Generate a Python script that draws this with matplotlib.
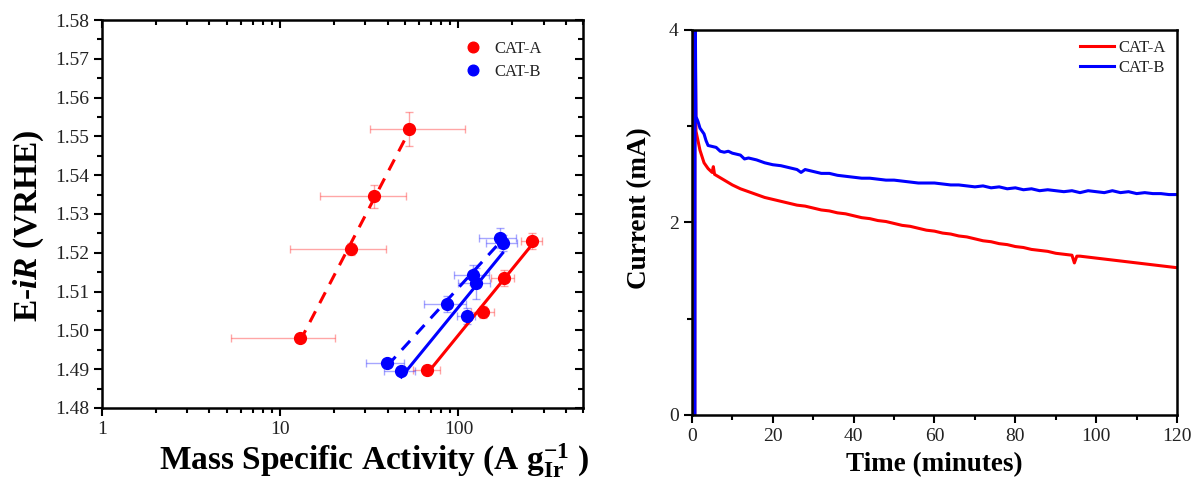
import numpy as np
import matplotlib
matplotlib.use('Agg')
import matplotlib.pyplot as plt
from matplotlib.ticker import MultipleLocator, LogLocator, NullFormatter, FixedLocator, FixedFormatter

plt.rcParams['font.family'] = 'Liberation Serif'
plt.rcParams['mathtext.fontset'] = 'custom'
plt.rcParams['mathtext.rm'] = 'Liberation Serif'
plt.rcParams['mathtext.it'] = 'Liberation Serif:italic'
plt.rcParams['mathtext.bf'] = 'Liberation Serif:bold'
plt.rcParams['mathtext.bfit'] = 'Liberation Serif:italic:bold'

# --- Tafel-style data: mass activity (A/g_Ir) vs E-iR (V vs RHE) ---
# CAT-A, dashed set
a1_x = [12.9, 25.1, 33.7, 53.0]
a1_y = [1.498, 1.521, 1.5346, 1.5519]
a1_xlo = [7.6, 13.7, 16.9, 21.0]
a1_xhi = [7.5, 14.3, 16.8, 56.0]
a1_yerr = [0.001, 0.0015, 0.003, 0.0045]

# CAT-A, solid set
a2_x = [67.0, 138.0, 179.0, 260.0]
a2_y = [1.4898, 1.5047, 1.5135, 1.5230]
a2_xerr = [11.5, 21.0, 27.0, 36.0]
a2_yerr = [0.0012, 0.0015, 0.002, 0.002]

# CAT-B, dashed set
b1_x = [39.9, 86.7, 121.0, 170.0]
b1_y = [1.4916, 1.5068, 1.5143, 1.5238]
b1_xerr = [9.5, 23.0, 27.0, 40.0]
b1_yerr = [0.001, 0.002, 0.0025, 0.0025]

# CAT-B, solid set
b2_x = [47.8, 111.0, 125.0, 177.0]
b2_y = [1.4895, 1.5037, 1.5122, 1.5225]
b2_xerr = [9.5, 13.0, 25.0, 35.0]
b2_yerr = [0.001, 0.002, 0.004, 0.002]

# --- Chronoamperometry: current (mA) vs time (min) ---
t_a = [0.7, 0.72, 1.0, 1.5, 2, 3, 4, 5, 5.3, 5.6, 6, 8, 10, 12, 14, 16, 18, 20, 22, 24,
       26, 28, 30, 32, 34, 36, 38, 40, 42, 44, 46, 48, 50, 52, 54, 56, 58, 60, 62, 64,
       66, 68, 70, 72, 74, 76, 78, 80, 82, 84, 86, 88, 90, 92, 94, 94.6, 95.2, 96, 98,
       100, 102, 104, 106, 108, 110, 112, 114, 116, 118, 120]
i_a = [0.0, 4.5, 2.95, 2.85, 2.75, 2.62, 2.56, 2.52, 2.58, 2.50, 2.49, 2.44, 2.39, 2.35,
       2.32, 2.29, 2.26, 2.24, 2.22, 2.20, 2.18, 2.17, 2.15, 2.13, 2.12, 2.10, 2.09, 2.07,
       2.05, 2.04, 2.02, 2.01, 1.99, 1.97, 1.96, 1.94, 1.92, 1.91, 1.89, 1.88, 1.86, 1.85,
       1.83, 1.81, 1.80, 1.78, 1.77, 1.75, 1.74, 1.72, 1.71, 1.70, 1.68, 1.67, 1.66, 1.58,
       1.65, 1.65, 1.64, 1.63, 1.62, 1.61, 1.60, 1.59, 1.58, 1.57, 1.56, 1.55, 1.54, 1.53]

t_b = [0.75, 0.78, 1.0, 1.5, 2, 3, 3.5, 4, 5, 6, 7, 8, 9, 10, 11, 12, 13, 14, 16, 18,
       20, 22, 24, 26, 27, 28, 30, 32, 34, 36, 38, 40, 42, 44, 46, 48, 50, 52, 54, 56,
       58, 60, 62, 64, 66, 68, 70, 72, 74, 76, 78, 80, 82, 84, 86, 88, 90, 92, 94, 96,
       98, 100, 102, 104, 106, 108, 110, 112, 114, 116, 118, 120]
i_b = [0.0, 4.5, 3.10, 3.05, 2.98, 2.92, 2.85, 2.80, 2.79, 2.78, 2.74, 2.73, 2.74, 2.72,
       2.71, 2.70, 2.66, 2.67, 2.65, 2.62, 2.60, 2.59, 2.57, 2.55, 2.52, 2.55, 2.53, 2.51,
       2.51, 2.49, 2.48, 2.47, 2.46, 2.46, 2.45, 2.44, 2.44, 2.43, 2.42, 2.41, 2.41, 2.41,
       2.40, 2.39, 2.39, 2.38, 2.37, 2.38, 2.36, 2.37, 2.35, 2.36, 2.34, 2.35, 2.33, 2.34,
       2.33, 2.32, 2.33, 2.31, 2.33, 2.32, 2.31, 2.33, 2.31, 2.32, 2.30, 2.31, 2.30, 2.30,
       2.29, 2.29]

RED = '#ff0000'
BLUE = '#0000ff'
TXT = '#222222'

fig = plt.figure(figsize=(11.95, 4.88), dpi=100)
ax1 = fig.add_axes([0.0854, 0.164, 0.4025, 0.795])
ax2 = fig.add_axes([0.579, 0.1496, 0.406, 0.789])


def fit_line(ax, x, y, color, ls):
    lx = np.log10(x)
    k, b = np.polyfit(lx, y, 1)
    xx = np.array([min(x), max(x)])
    ax.plot(xx, k * np.log10(xx) + b, color=color, ls=ls, lw=2.2, zorder=2,
            dashes=(4, 3) if ls == '--' else (None, None))


def points(ax, x, y, xerr, yerr, color, label=None):
    ax.errorbar(x, y, xerr=xerr, yerr=yerr, fmt='none', ecolor=color, alpha=0.35,
                elinewidth=1.0, capsize=3, capthick=1.0, zorder=1)
    ax.plot(x, y, 'o', color=color, ms=8.5, mec=color, zorder=3, label=label)


fit_line(ax1, a1_x, a1_y, RED, '--')
fit_line(ax1, a2_x, a2_y, RED, '-')
fit_line(ax1, b1_x, b1_y, BLUE, '--')
fit_line(ax1, b2_x, b2_y, BLUE, '-')
points(ax1, a1_x, a1_y, [a1_xlo, a1_xhi], a1_yerr, RED, 'CAT-A')
points(ax1, a2_x, a2_y, a2_xerr, a2_yerr, RED)
points(ax1, b1_x, b1_y, b1_xerr, b1_yerr, BLUE, 'CAT-B')
points(ax1, b2_x, b2_y, b2_xerr, b2_yerr, BLUE)

ax1.set_xscale('log')
ax1.set_xlim(1, 500)
ax1.set_ylim(1.48, 1.58)
ax1.xaxis.set_major_locator(FixedLocator([1, 10, 100]))
ax1.xaxis.set_major_formatter(FixedFormatter(['1', '10', '100']))
ax1.xaxis.set_minor_locator(LogLocator(base=10, subs=np.arange(2, 10)))
ax1.xaxis.set_minor_formatter(NullFormatter())
ax1.yaxis.set_major_locator(MultipleLocator(0.01))
ax1.yaxis.set_minor_locator(MultipleLocator(0.005))
ax1.yaxis.set_major_formatter(plt.FormatStrFormatter('%.2f'))
ax1.tick_params(which='both', direction='out', labelsize=14, labelcolor=TXT, width=1.5)
ax1.tick_params(which='major', length=6)
ax1.tick_params(which='minor', length=3.5)
ax1.tick_params(which='both', top=True, right=True)
# top and right ticks point into the frame
for t in ax1.xaxis.get_ticklines(minor=True)[1::2] + ax1.xaxis.get_ticklines()[1::2]:
    t.set_marker(3)
for t in ax1.yaxis.get_ticklines(minor=True)[1::2] + ax1.yaxis.get_ticklines()[1::2]:
    t.set_marker(0)
ax1.set_xlabel(r'Mass Specific Activity (A $\mathbf{g}_{\mathbf{Ir}}^{\mathbf{-1}}$ )',
               fontsize=24, fontweight='bold', labelpad=2)
ax1.xaxis.label.set_x(0.565)
ax1.set_ylabel(r'E-$\mathbfit{iR}$ (VRHE)', fontsize=24, fontweight='bold', labelpad=6)
ax1.yaxis.label.set_y(0.47)
leg1 = ax1.legend(loc='upper right', bbox_to_anchor=(0.945, 0.985), frameon=False,
                  fontsize=12, handlelength=1.0, handletextpad=0.8, labelspacing=0.45,
                  markerscale=0.9)
for txt in leg1.get_texts():
    txt.set_color(TXT)

ax2.plot(t_a, i_a, color=RED, lw=2.2, label='CAT-A')
ax2.plot(t_b, i_b, color=BLUE, lw=2.2, label='CAT-B')
ax2.set_xlim(0, 120)
ax2.set_ylim(0, 4)
ax2.xaxis.set_major_locator(MultipleLocator(20))
ax2.xaxis.set_minor_locator(MultipleLocator(10))
ax2.yaxis.set_major_locator(MultipleLocator(2))
ax2.yaxis.set_minor_locator(MultipleLocator(1))
ax2.tick_params(which='both', direction='out', labelsize=14, labelcolor=TXT, width=1.5)
ax2.tick_params(which='major', length=6)
ax2.tick_params(which='minor', length=3.5)
ax2.set_xlabel('Time (minutes)', fontsize=19.5, fontweight='bold', labelpad=5)
ax2.set_ylabel('Current (mA)', fontsize=19.5, fontweight='bold', labelpad=12)
ax2.yaxis.label.set_y(0.538)
leg2 = ax2.legend(loc='upper right', bbox_to_anchor=(1.008, 1.014), frameon=False,
                  fontsize=12, handlelength=2.0, handletextpad=0.3, labelspacing=0.25)
for txt in leg2.get_texts():
    txt.set_color(TXT)

for ax in (ax1, ax2):
    for s in ax.spines.values():
        s.set_linewidth(1.8)

fig.savefig('out.png', dpi=100)
